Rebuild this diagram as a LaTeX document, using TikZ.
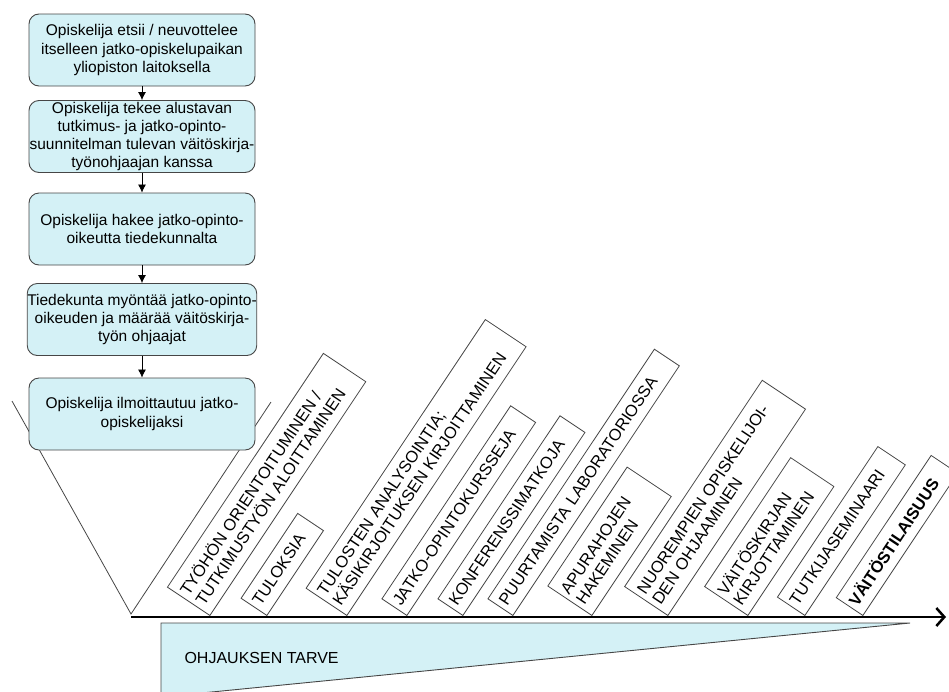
\documentclass[tikz,border=0pt]{standalone}
\usepackage{fontspec}
\setmainfont{Liberation Sans}
\usetikzlibrary{arrows.meta}
\definecolor{boxcyan}{RGB}{212,241,246}
\definecolor{edgegray}{RGB}{70,70,70}

\begin{document}
\begin{tikzpicture}[x=1pt,y=-1pt,
  flowbox/.style={draw=edgegray,line width=0.9pt,fill=boxcyan,rounded corners=10pt,
    minimum width=226pt,minimum height=72pt,inner sep=0pt,align=center,
    font=\fontsize{15.5}{18.3}\selectfont},
  tagbox/.style={draw=edgegray,line width=0.8pt,fill=white,rotate=56.3,anchor=south west,
    inner xsep=4pt,inner ysep=0pt,align=left,font=\fontsize{16.5}{18.5}\selectfont},
  flowarrow/.style={-{Latex[length=8pt,width=8pt]},line width=0.8pt}]
\useasboundingbox (0,0) rectangle (949,691);

% need for guidance
\fill[boxcyan] (161,623) -- (910,623) -- (161,697) -- cycle;
\draw[edgegray,line width=0.9pt] (161,623) -- (910,623) -- (161,697) -- cycle;
\node[anchor=base west,font=\fontsize{16}{18}\selectfont] (need) at (181,663) {OHJAUKSEN TARVE};

% funnel
\draw[edgegray,line width=0.8pt] (12,401) -- (131,614) -- (271,402);

% flow boxes
\node[flowbox] (b1) at (142,50) {Opiskelija etsii / neuvottelee\\itselleen jatko-opiskelupaikan\\yliopiston laitoksella};
\node[flowbox] (b2) at (142,136.5) {Opiskelija tekee alustavan\\tutkimus- ja jatko-opinto-\\suunnitelman tulevan väitöskirja-\\työnohjaajan kanssa};
\node[flowbox] (b3) at (142,229) {Opiskelija hakee jatko-opinto-\\oikeutta tiedekunnalta};
\node[flowbox] (b4) at (142,319.5) {Tiedekunta myöntää jatko-opinto-\\oikeuden ja määrää väitöskirja-\\työn ohjaajat};
\node[flowbox] (b5) at (142,414) {Opiskelija ilmoittautuu jatko-\\opiskelijaksi};
\draw[flowarrow] (b1) -- (b2);
\draw[flowarrow] (b2) -- (b3);
\draw[flowarrow] (b3) -- (b4);
\draw[flowarrow] (b4) -- (b5);

% slanted tasks
\node[tagbox,text width=273pt,minimum height=51pt] (tag1) at (210,616) {TYÖHÖN ORIENTOITUMINEN /\\TUTKIMUSTYÖN ALOITTAMINEN};
\node[tagbox,text width=94pt,minimum height=31pt] (tag2) at (267,616) {TULOKSIA};
\node[tagbox,text width=315pt,minimum height=49pt] (tag3) at (347,616) {TULOSTEN ANALYSOINTIA;\\KÄSIKIRJOITUKSEN KIRJOITTAMINEN};
\node[tagbox,text width=224pt,minimum height=30pt] (tag4) at (407,616) {JATKO-OPINTOKURSSEJA};
\node[tagbox,text width=212pt,minimum height=30pt] (tag5) at (463,616) {KONFERENSSIMATKOJA};
\node[tagbox,text width=292pt,minimum height=30pt] (tag6) at (513,616) {PUURTAMISTA LABORATORIOSSA};
\node[tagbox,text width=135pt,minimum height=53pt] (tag7) at (592,616) {APURAHOJEN\\HAKEMINEN};
\node[tagbox,text width=240pt,minimum height=52pt] (tag8) at (668,616) {NUOREMPIEN OPISKELIJOI-\\DEN OHJAAMINEN};
\node[tagbox,text width=147pt,minimum height=52pt] (tag9) at (748,616) {VÄITÖSKIRJAN\\KIRJOTTAMINEN};
\node[tagbox,text width=173pt,minimum height=33pt] (tag10) at (805,616) {TUTKIJASEMINAARI};
\node[tagbox,text width=163pt,minimum height=32pt] (tag11) at (863,616) {\textbf{VÄITÖSTILAISUUS}};

% time axis
\coordinate (axisstart) at (131,617);
\coordinate (axisend) at (946,617);
\draw[line width=2.5pt,-{Straight Barb[length=8pt,width=18pt]}] (axisstart) -- (axisend);
\end{tikzpicture}
\end{document}
